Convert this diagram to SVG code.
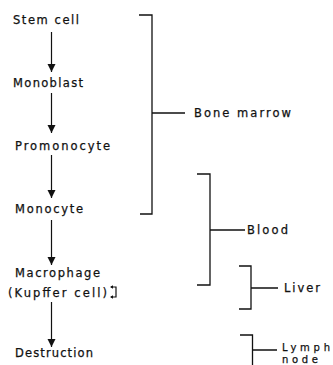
<svg xmlns="http://www.w3.org/2000/svg" width="333" height="365" viewBox="0 0 333 365">
<defs>
<marker id="ah" viewBox="0 0 8 10" refX="8" refY="5" markerWidth="8" markerHeight="10" markerUnits="userSpaceOnUse" orient="auto">
<path d="M0,1 L8,5 L0,9 Z" fill="#111"/>
</marker>
<style>
text{font-family:"DejaVu Sans","Liberation Sans",Arial,sans-serif;font-size:11.5px;fill:#111;stroke:#111;stroke-width:0.25}
.s{font-size:10px}
.c{stroke:#111;stroke-width:1.2;fill:none}
.b{stroke:#111;stroke-width:1.3;fill:none}
</style>
</defs>
<rect width="333" height="365" fill="#fff"/>
<g id="stem"><text x="13" y="23.5" textLength="66" lengthAdjust="spacing">Stem cell</text></g>
<g id="monoblast"><text x="13" y="86.5" textLength="70" lengthAdjust="spacing">Monoblast</text></g>
<g id="promonocyte"><text x="15" y="150" textLength="95" lengthAdjust="spacing">Promonocyte</text></g>
<g id="monocyte"><text x="15" y="213" textLength="68" lengthAdjust="spacing">Monocyte</text></g>
<g id="macrophage"><text x="15" y="277" textLength="85" lengthAdjust="spacing">Macrophage</text>
<text x="8" y="297" textLength="99" lengthAdjust="spacing">(Kupffer cell)</text>
<path class="c" d="M111,287 H116 V297 H111" stroke-width="1"/>
<path d="M110,287 L113,285.3 L113,288.7 Z M110,297 L113,295.3 L113,298.7 Z" fill="#111"/>
</g>
<g id="destruction"><text x="15" y="357" textLength="78" lengthAdjust="spacing">Destruction</text></g>
<g id="bonemarrow"><path class="b" d="M139,15 H152 V214 H140 M152,113 H185"/><text x="194" y="117" textLength="97" lengthAdjust="spacing">Bone marrow</text></g>
<g id="blood"><path class="b" d="M197,174 H210 V285 H197 M210,230 H245"/><text x="247" y="234" textLength="41" lengthAdjust="spacing">Blood</text></g>
<g id="liver"><path class="b" d="M239,266 H251 V309 H239 M251,288 H278"/><text x="284" y="292" textLength="36" lengthAdjust="spacing">Liver</text></g>
<g id="lymphnode"><path class="b" d="M240,335 H252.5 V365 M252.5,350 H277"/><text class="s" x="282" y="351" textLength="48" lengthAdjust="spacing">Lymph</text><text class="s" x="282" y="362.5" textLength="36" lengthAdjust="spacing">node</text></g>
<g id="connectors">
<line class="c" x1="51.5" y1="32" x2="51.5" y2="72" marker-end="url(#ah)"/>
<line class="c" x1="51.5" y1="93" x2="51.5" y2="133" marker-end="url(#ah)"/>
<line class="c" x1="51.5" y1="155" x2="51.5" y2="198" marker-end="url(#ah)"/>
<line class="c" x1="51.5" y1="220" x2="51.5" y2="265" marker-end="url(#ah)"/>
<line class="c" x1="51.5" y1="302" x2="51.5" y2="347" marker-end="url(#ah)"/>
</g>
</svg>
